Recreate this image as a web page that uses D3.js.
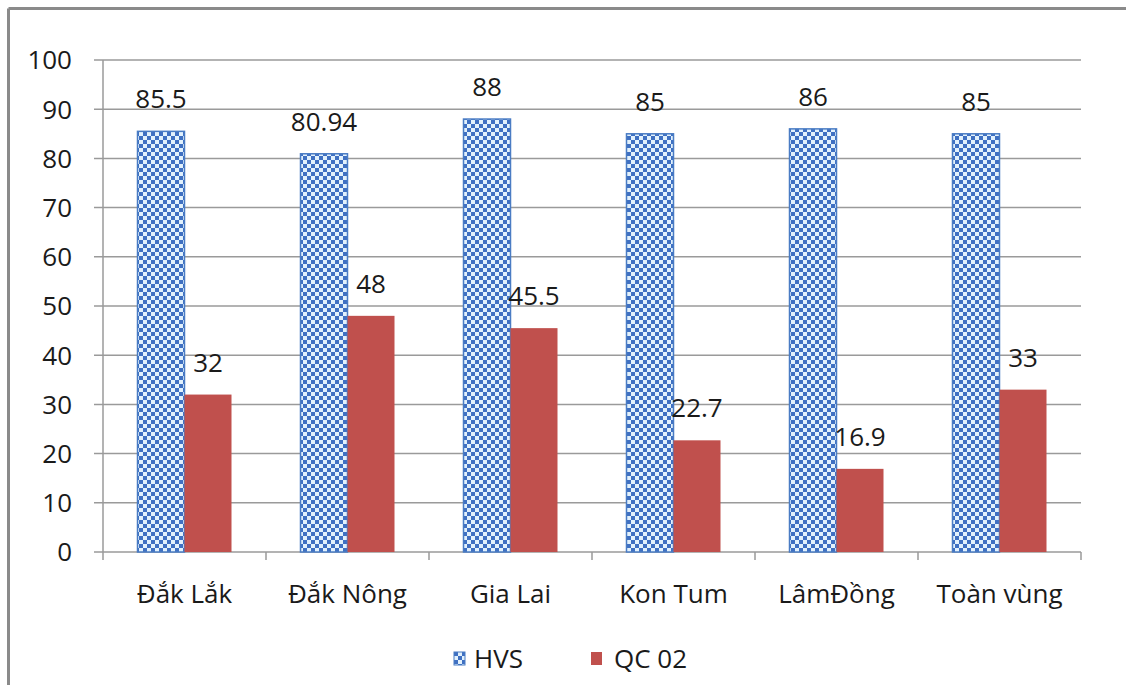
<!DOCTYPE html>
<html>
<head>
<meta charset="utf-8">
<script src="https://cdn.jsdelivr.net/npm/d3@7"></script>
<style>
  html, body { margin: 0; padding: 0; background: #fff; }
  svg { display: block; }
  text { font-family: "Open Sans", "Noto Sans", sans-serif; fill: #1a1a1a; }
</style>
</head>
<body>
<svg id="chart" width="1126" height="685"></svg>
<script>
// Provinces of the Central Highlands and the regional total
const categories = ["Đắk Lắk", "Đắk Nông", "Gia Lai", "Kon Tum", "LâmĐồng", "Toàn vùng"];
const hvsValues = [85.5, 80.94, 88, 85, 86, 85];
const qcValues = [32, 48, 45.5, 22.7, 16.9, 33];
const yTicks = [0, 10, 20, 30, 40, 50, 60, 70, 80, 90, 100];
const seriesNames = ["HVS", "QC 02"];

const svg = d3.select("#chart");
const W = 1126, H = 685;
const margin = { left: 103, right: 45, top: 60, bottom: 133 };
const plotW = W - margin.left - margin.right;
const plotH = H - margin.top - margin.bottom;
const fontSize = 26;

// Outer frame (only top and left edges are visible)
svg.append("line").attr("x1", 8.5).attr("x2", W).attr("y1", 8.5).attr("y2", 8.5)
  .attr("stroke", "#8a8a8a").attr("stroke-width", 3);
svg.append("line").attr("x1", 8.5).attr("x2", 8.5).attr("y1", 8.5).attr("y2", H)
  .attr("stroke", "#8a8a8a").attr("stroke-width", 3);

// Checkerboard fill for the HVS series
const defs = svg.append("defs");
const pat = defs.append("pattern").attr("id", "checker")
  .attr("patternUnits", "userSpaceOnUse").attr("width", 8).attr("height", 8);
pat.append("rect").attr("width", 8).attr("height", 8).attr("fill", "#e2f1fc");
pat.append("rect").attr("x", 0).attr("y", 0).attr("width", 4).attr("height", 4).attr("fill", "#3f70c2");
pat.append("rect").attr("x", 4).attr("y", 4).attr("width", 4).attr("height", 4).attr("fill", "#3f70c2");

const g = svg.append("g").attr("transform", `translate(${margin.left},${margin.top})`);

const x = d3.scaleBand().domain(categories).range([0, plotW]).paddingInner(0).paddingOuter(0);
const y = d3.scaleLinear().domain([0, 100]).range([plotH, 0]);
const barW = 47;

// Horizontal gridlines with tick stubs
g.append("g").selectAll("line").data(yTicks).join("line")
  .attr("x1", -9).attr("x2", plotW)
  .attr("y1", d => y(d)).attr("y2", d => y(d))
  .attr("stroke", "#9a9a9a").attr("stroke-width", 1.5);

// Vertical axis
g.append("line").attr("x1", 0).attr("x2", 0).attr("y1", 0).attr("y2", plotH)
  .attr("stroke", "#9a9a9a").attr("stroke-width", 1.5);

// Y tick labels
g.append("g").selectAll("text").data(yTicks).join("text")
  .attr("x", -31).attr("y", d => y(d))
  .attr("dy", "0.36em").attr("text-anchor", "end")
  .attr("font-size", fontSize).text(d => d);

// Category tick marks at band boundaries
const bounds = categories.map(c => x(c)).concat([plotW]);
g.append("g").selectAll("line").data(bounds).join("line")
  .attr("x1", d => d).attr("x2", d => d)
  .attr("y1", plotH).attr("y2", plotH + 8)
  .attr("stroke", "#9a9a9a").attr("stroke-width", 1.5);

// Category labels
g.append("g").selectAll("text").data(categories).join("text")
  .attr("x", d => x(d) + x.bandwidth() / 2)
  .attr("y", plotH + 51)
  .attr("text-anchor", "middle").attr("font-size", fontSize).text(d => d);

// HVS bars
g.append("g").selectAll("rect").data(hvsValues).join("rect")
  .attr("x", (d, i) => x(categories[i]) + x.bandwidth() / 2 - barW)
  .attr("y", d => y(d))
  .attr("width", barW).attr("height", d => plotH - y(d))
  .attr("fill", "url(#checker)").attr("stroke", "#4a7cc4").attr("stroke-width", 1.5);

// QC 02 bars
g.append("g").selectAll("rect").data(qcValues).join("rect")
  .attr("x", (d, i) => x(categories[i]) + x.bandwidth() / 2)
  .attr("y", d => y(d))
  .attr("width", barW).attr("height", d => plotH - y(d))
  .attr("fill", "#c0504d");

// Value labels
g.append("g").selectAll("text").data(hvsValues).join("text")
  .attr("x", (d, i) => x(categories[i]) + x.bandwidth() / 2 - barW / 2)
  .attr("y", d => y(d) - 23)
  .attr("text-anchor", "middle").attr("font-size", fontSize).text(d => d);
g.append("g").selectAll("text").data(qcValues).join("text")
  .attr("x", (d, i) => x(categories[i]) + x.bandwidth() / 2 + barW / 2)
  .attr("y", d => y(d) - 23)
  .attr("text-anchor", "middle").attr("font-size", fontSize).text(d => d);

// Legend
const legend = svg.append("g").attr("transform", "translate(454,652)");
const items = legend.selectAll("g").data(seriesNames).join("g")
  .attr("transform", (d, i) => `translate(${i * 137},0)`);
items.append("rect").attr("width", 11).attr("height", 13)
  .attr("fill", (d, i) => i === 0 ? "url(#checker)" : "#c0504d")
  .attr("stroke", (d, i) => i === 0 ? "#4a7cc4" : "none").attr("stroke-width", 1);
items.append("text").attr("x", (d, i) => i === 0 ? 20 : 23).attr("y", 6.5).attr("dy", "0.36em")
  .attr("font-size", fontSize).text(d => d);
</script>
</body>
</html>
